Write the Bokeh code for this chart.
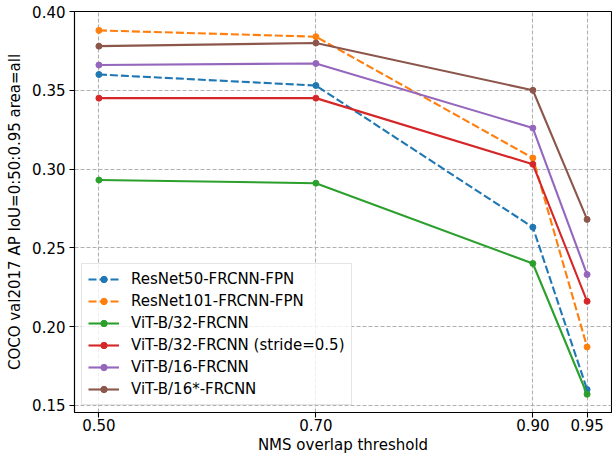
from bokeh.plotting import figure
from bokeh.models import FixedTicker, Legend, LegendItem, Range1d
from bokeh.embed import file_html
from bokeh.resources import INLINE

# ---- data ----
x_vals = [0.50, 0.70, 0.90, 0.95]
x_tick_labels = ["0.50", "0.70", "0.90", "0.95"]
y_ticks = [0.15, 0.20, 0.25, 0.30, 0.35, 0.40]
y_tick_labels = ["0.15", "0.20", "0.25", "0.30", "0.35", "0.40"]

series_names = [
    "ResNet50-FRCNN-FPN",
    "ResNet101-FRCNN-FPN",
    "ViT-B/32-FRCNN",
    "ViT-B/32-FRCNN (stride=0.5)",
    "ViT-B/16-FRCNN",
    "ViT-B/16*-FRCNN",
]
resnet50 = [0.360, 0.353, 0.263, 0.160]
resnet101 = [0.388, 0.384, 0.307, 0.187]
vit_b32 = [0.293, 0.291, 0.240, 0.157]
vit_b32_stride = [0.345, 0.345, 0.303, 0.216]
vit_b16 = [0.366, 0.367, 0.326, 0.233]
vit_b16_star = [0.378, 0.380, 0.350, 0.268]
series_values = [resnet50, resnet101, vit_b32, vit_b32_stride, vit_b16, vit_b16_star]
colors = ["#1f77b4", "#ff7f0e", "#2ca02c", "#d62728", "#9467bd", "#8c564b"]
dashes = ["8 3", "8 3", "solid", "solid", "solid", "solid"]

FONT = "DejaVu Sans"
FS = "15px"

p = figure(
    width=612, height=457,
    output_backend="svg", toolbar_location=None,
    x_range=Range1d(0.4775, 0.9725), y_range=Range1d(0.1454, 0.400),
    min_border_left=74, min_border_right=1, min_border_top=11, min_border_bottom=45,
)
p.background_fill_color = "white"
p.border_fill_color = "white"
p.outline_line_color = "black"
p.outline_line_width = 1.1

# grid
for g in (p.xgrid, p.ygrid):
    g.grid_line_color = "#b0b0b0"
    g.grid_line_dash = "4 2"
    g.grid_line_width = 1.1
p.xgrid.ticker = FixedTicker(ticks=x_vals)
p.ygrid.ticker = FixedTicker(ticks=y_ticks)

# axes
p.xaxis.ticker = FixedTicker(ticks=x_vals)
p.xaxis.major_label_overrides = {v: l for v, l in zip(x_vals, x_tick_labels)}
p.yaxis.ticker = FixedTicker(ticks=y_ticks)
p.yaxis.major_label_overrides = {v: l for v, l in zip(y_ticks, y_tick_labels)}
p.xaxis.axis_label = "NMS overlap threshold"
p.yaxis.axis_label = "COCO val2017 AP IoU=0:50:0.95 area=all"
for ax in (p.xaxis, p.yaxis):
    ax.axis_line_color = "black"
    ax.axis_line_width = 1.1
    ax.major_tick_line_color = "black"
    ax.major_tick_line_width = 1.1
    ax.major_tick_out = 5
    ax.major_tick_in = 0
    ax.minor_tick_line_color = None
    ax.major_label_text_font = FONT
    ax.major_label_text_font_size = FS
    ax.major_label_text_color = "black"
    ax.axis_label_text_font = FONT
    ax.axis_label_text_font_size = FS
    ax.axis_label_text_font_style = "normal"
    ax.axis_label_text_color = "black"
p.xaxis.major_label_standoff = 1
p.xaxis.axis_label_standoff = 2
p.yaxis.major_label_standoff = 4
p.yaxis.axis_label_standoff = 5

items = []
for name, vals, c, d in zip(series_names, series_values, colors, dashes):
    ln = p.line(x_vals, vals, line_color=c, line_width=2.1, line_dash=d)
    sc = p.scatter(x_vals, vals, size=6, fill_color=c, line_color=c, marker="circle")
    items.append(LegendItem(label=name, renderers=[ln, sc]))

legend = Legend(items=items, location="bottom_left")
legend.label_text_font = FONT
legend.label_text_font_size = FS
legend.label_text_color = "black"
legend.glyph_width = 31
legend.glyph_height = 16
legend.label_height = 16
legend.label_standoff = 12
legend.spacing = 4
legend.padding = 6
legend.margin = 7
legend.border_line_color = "#cccccc"
legend.border_line_width = 1
legend.background_fill_color = "white"
legend.background_fill_alpha = 0.8
p.add_layout(legend, "center")

open("out.html", "w").write(file_html(p, INLINE))
